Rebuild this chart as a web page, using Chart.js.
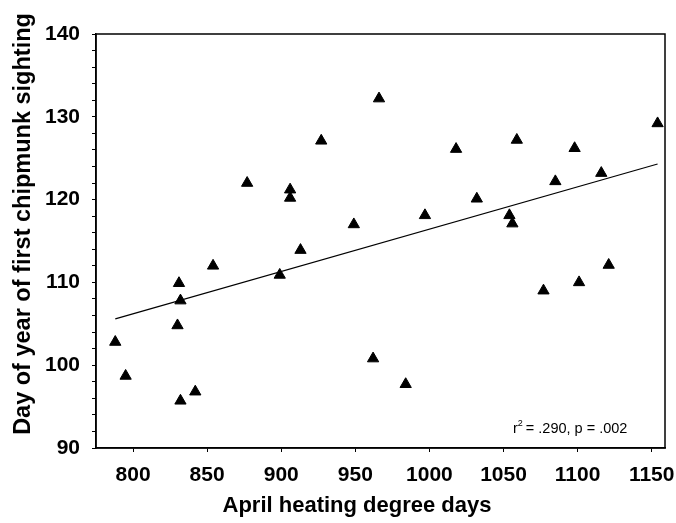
<!DOCTYPE html>
<html>
<head>
<meta charset="utf-8">
<script src="https://cdn.jsdelivr.net/npm/chart.js@4"></script>
<style>
  html, body { margin: 0; padding: 0; background: #fff; }
  canvas { display: block; }
</style>
</head>
<body>
<canvas id="chipChart" width="676" height="523"></canvas>
<script>
// April heating degree days (x) vs day of first chipmunk sighting (y)
const heatDays = [788, 795, 831, 832, 830, 854, 832, 842, 899, 913, 949, 962, 877, 906, 906, 927,
  966, 997, 1018, 1032, 1059, 1054, 1056, 1085, 1098, 1116, 1154, 1077, 1101, 1121, 984];
const firstSighting = [102.8, 98.7, 109.9, 107.8, 104.8, 112.0, 95.7, 96.8, 110.9, 113.9, 117.0, 100.8, 122.0, 121.2, 120.2, 127.1,
  132.2, 118.1, 126.1, 120.1, 127.2, 118.1, 117.1, 122.2, 126.2, 123.2, 129.2, 109.0, 110.0, 112.1, 97.7];

// regression line end points
const trendX = [788, 1154];
const trendY = [105.6, 124.3];

const xTicks = [800, 850, 900, 950, 1000, 1050, 1100, 1150];
const yTicks = [90, 100, 110, 120, 130, 140];

const xTitle = "April heating degree days";
const yTitle = "Day of year of first chipmunk sighting";
const statText = ".290, p = .002";

const points = heatDays.map((x, i) => ({ x: x, y: firstSighting[i] }));
const trend = trendX.map((x, i) => ({ x: x, y: trendY[i] }));

const FONT = "'Liberation Sans', Arial, sans-serif";

// box round the plot, axis titles (they sit off-centre in the original) + r² note
const framePlugin = {
  id: "frame",
  afterDraw(chart) {
    const { ctx, chartArea: a } = chart;
    ctx.save();
    ctx.strokeStyle = "#000";
    ctx.lineWidth = 1.5;
    ctx.strokeRect(a.left, a.top, a.right - a.left, a.bottom - a.top);

    ctx.fillStyle = "#000";

    // x title
    ctx.font = "bold 22px " + FONT;
    ctx.textAlign = "center";
    ctx.textBaseline = "alphabetic";
    ctx.fillText(xTitle, 357, 512);

    // y title
    ctx.save();
    ctx.translate(24, 224);
    ctx.rotate(-Math.PI / 2);
    ctx.font = "bold 23.5px " + FONT;
    ctx.textBaseline = "middle";
    ctx.fillText(yTitle, 0, 0);
    ctx.restore();

    // stats note
    ctx.textAlign = "left";
    ctx.textBaseline = "alphabetic";
    let x = 513, y = 433;
    ctx.font = "14.5px " + FONT;
    ctx.fillText("r", x, y);
    x += ctx.measureText("r").width;
    ctx.font = "9px " + FONT;
    ctx.fillText("2", x, y - 7);
    x += ctx.measureText("2").width + 3;
    ctx.font = "14.5px " + FONT;
    ctx.fillText("= " + statText, x, y);
    ctx.restore();
  }
};

const ctx = document.getElementById("chipChart").getContext("2d");
new Chart(ctx, {
  type: "scatter",
  data: {
    datasets: [
      {
        label: "sightings",
        data: points,
        pointStyle: "triangle",
        pointRadius: 6.5,
        backgroundColor: "#000",
        borderColor: "#000",
        borderWidth: 1
      },
      {
        label: "fit",
        type: "line",
        data: trend,
        borderColor: "#000",
        borderWidth: 1.2,
        pointRadius: 0,
        fill: false
      }
    ]
  },
  options: {
    responsive: false,
    animation: false,
    devicePixelRatio: 1,
    layout: { padding: { top: 34, right: 11, left: 0, bottom: 0 } },
    plugins: { legend: { display: false }, tooltip: { enabled: false } },
    scales: {
      x: {
        type: "linear",
        min: 775,
        max: 1159,
        afterFit: (s) => { s.height = 75; s.paddingLeft = 0; s.paddingRight = 0; },
        afterBuildTicks: (s) => { s.ticks = xTicks.map((v) => ({ value: v })); },
        grid: { drawOnChartArea: false, tickLength: 4, color: "#000" },
        border: { color: "#000", width: 1.5 },
        ticks: {
          color: "#000",
          padding: 11,
          maxRotation: 0,
          callback: (v) => String(v),
          font: { family: FONT, size: 21, weight: "bold" }
        }
      },
      y: {
        type: "linear",
        min: 90,
        max: 140,
        afterFit: (s) => { s.width = 96; s.paddingTop = 0; s.paddingBottom = 0; },
        grid: { drawOnChartArea: false, tickLength: 4, color: "#000" },
        border: { color: "#000", width: 1.5 },
        ticks: {
          stepSize: 2,
          color: "#000",
          padding: 12,
          autoSkip: false,
          callback: (v) => (yTicks.includes(v) ? String(v) : ""),
          font: { family: FONT, size: 21, weight: "bold" }
        }
      }
    }
  },
  plugins: [framePlugin]
});
</script>
</body>
</html>
